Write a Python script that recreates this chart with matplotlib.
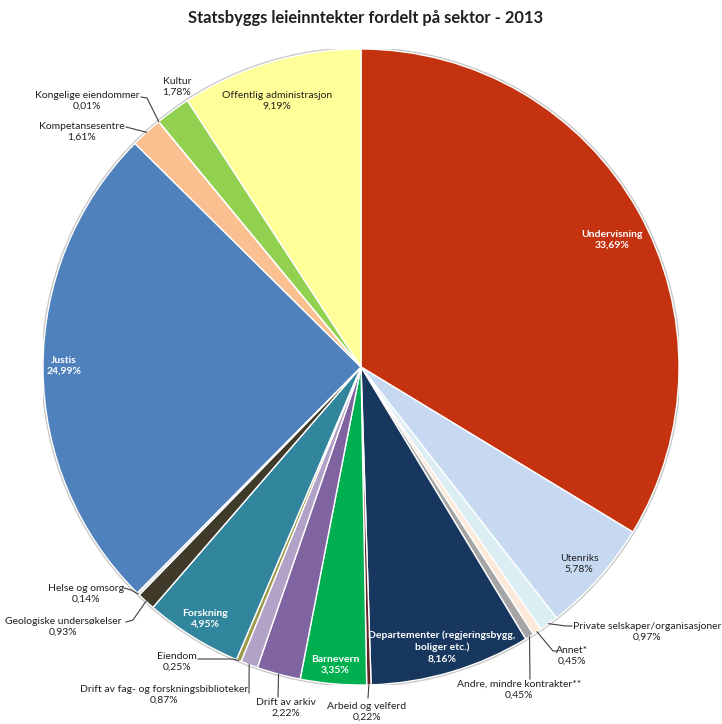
import numpy as np
import matplotlib.pyplot as plt

# === Data ===
sectors = [
    'Undervisning', 'Utenriks', 'Private selskaper/organisasjoner', 'Annet*',
    'Andre, mindre kontrakter**', 'Departementer (regjeringsbygg,\nboliger etc.)',
    'Arbeid og velferd', 'Barnevern', 'Drift av arkiv',
    'Drift av fag- og forskningsbiblioteker', 'Eiendom', 'Forskning',
    'Geologiske undersøkelser', 'Helse og omsorg', 'Justis', 'Kompetansesentre',
    'Kongelige eiendommer', 'Kultur', 'Offentlig administrasjon',
]
shares = [33.69, 5.78, 0.97, 0.45, 0.45, 8.16, 0.22, 3.35, 2.22, 0.87,
          0.25, 4.95, 0.93, 0.14, 24.99, 1.61, 0.01, 1.78, 9.19]
colors = ['#C4320F', '#C6D9F1', '#DBEEF4', '#FDE9D9', '#A5A5A5', '#17375E',
          '#632523', '#00B050', '#8064A2', '#B3A2C7', '#9B9B4B', '#31859C',
          '#403A2A', '#D9D9D9', '#4F81BD', '#FAC090', '#F2DCDB', '#92D050',
          '#FFFF99']

# === Layout (pixel coords of the 722x724 canvas) ===
W, H = 722, 724
CX, CY, R = 361, 367, 318

# label centre, text colour, leader elbow points (label side)
label_layout = {
    'Undervisning': ((612, 240), 'white', None),
    'Utenriks': ((579, 564), '#1F1F1F', None),
    'Private selskaper/organisasjoner': ((647, 632), '#1F1F1F', [(566, 626), (572, 626)]),
    'Annet*': ((572, 656), '#1F1F1F', [(553, 651), (557, 651)]),
    'Andre, mindre kontrakter**': ((519, 690), '#1F1F1F', [(530, 679)]),
    'Departementer (regjeringsbygg,\nboliger etc.)': ((442, 647), 'white', None),
    'Arbeid og velferd': ((367, 712), '#1F1F1F', [(368, 698)]),
    'Barnevern': ((335, 665), 'white', None),
    'Drift av arkiv': ((286, 708), '#1F1F1F', [(278, 697)]),
    'Drift av fag- og forskningsbiblioteker': ((164, 695), '#1F1F1F', [(249, 693)]),
    'Eiendom': ((177, 662), '#1F1F1F', [(233, 659), (198, 659)]),
    'Forskning': ((205, 619), 'white', None),
    'Geologiske undersøkelser': ((63, 627), '#1F1F1F', [(133, 620), (126, 622)]),
    'Helse og omsorg': ((86, 594), '#1F1F1F', [(131, 590), (124, 588)]),
    'Justis': ((64, 366), 'white', None),
    'Kompetansesentre': ((82, 132), '#1F1F1F', [(126, 127)]),
    'Kongelige eiendommer': ((87, 101), '#1F1F1F', [(147, 98), (141, 97)]),
    'Kultur': ((177, 87), '#1F1F1F', None),
    'Offentlig administrasjon': ((277, 101), '#1F1F1F', None),
}


def to_data(px, py):
    return (px - CX) / R, (CY - py) / R


def fmt_pct(v):
    return f"{v:.2f}%".replace('.', ',')


plt.rcParams['font.family'] = ['Lato', 'DejaVu Sans']

fig = plt.figure(figsize=(W / 100, H / 100), dpi=100)
ax = fig.add_axes([(CX - R) / W, (H - CY - R) / H, 2 * R / W, 2 * R / H])

# soft rim behind the pie
ax.add_patch(plt.Circle((0, 0), 1.004, color='#C8C8C8', zorder=0))

wedges, _ = ax.pie(shares, colors=colors, startangle=90, counterclock=False,
                   radius=1.0, wedgeprops=dict(edgecolor='white', linewidth=1.0))

# pie() resets the limits to +-1.25, pin them to the unit circle
ax.set_xlim(-1, 1)
ax.set_ylim(-1, 1)
ax.set_aspect('equal')
ax.axis('off')

for w, name, val in zip(wedges, sectors, shares):
    (px, py), tcol, elbows = label_layout[name]
    tx, ty = to_data(px, py)
    weight = 'bold' if tcol == 'white' else 'normal'
    ax.text(tx, ty, f"{name}\n{fmt_pct(val)}", ha='center', va='center',
            fontsize=7.5, color=tcol, fontweight=weight, linespacing=1.3,
            clip_on=False)
    if elbows:
        mid = np.deg2rad((w.theta1 + w.theta2) / 2)
        xs = [np.cos(mid)] + [to_data(*p)[0] for p in elbows]
        ys = [np.sin(mid)] + [to_data(*p)[1] for p in elbows]
        ax.plot(xs, ys, color='#404040', linewidth=0.8, clip_on=False)

fig.text(366 / W, 1 - 18 / H, 'Statsbyggs leieinntekter fordelt på sektor - 2013',
         ha='center', va='center', fontsize=11.9, fontweight='bold', color='#1F1F1F')

fig.savefig('out.png', dpi=100)
